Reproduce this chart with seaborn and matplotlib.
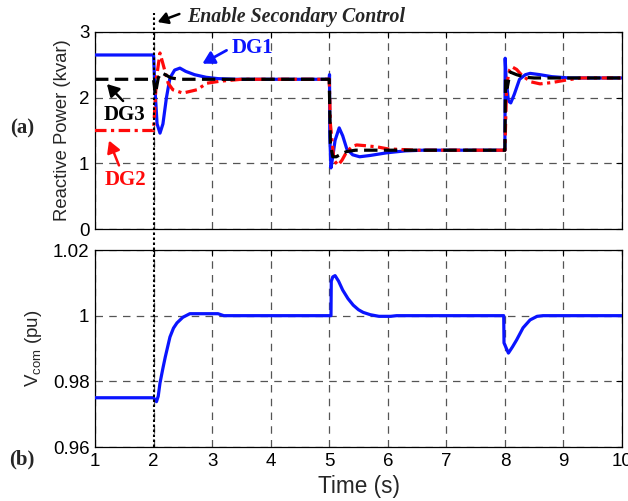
import matplotlib
matplotlib.use("Agg")
import matplotlib.pyplot as plt
import seaborn as sns
import pandas as pd

# ---- data ----
t_dg1 = [1.0, 2.0, 2.02, 2.06, 2.11, 2.16, 2.22, 2.28, 2.36, 2.45, 2.55, 2.7, 2.9, 3.1, 3.4,
         5.0, 5.005, 5.01, 5.03, 5.06, 5.1, 5.17, 5.23, 5.3, 5.4, 5.52, 5.7, 5.98, 6.3, 6.6,
         8.0, 8.005, 8.02, 8.06, 8.1, 8.16, 8.25, 8.35, 8.43, 8.6, 8.8, 9.1, 10.0]
q_dg1 = [2.65, 2.65, 2.2, 1.6, 1.46, 1.6, 2.0, 2.3, 2.42, 2.45, 2.4, 2.35, 2.31, 2.29, 2.28,
         2.28, 2.35, 1.4, 0.93, 1.1, 1.35, 1.54, 1.42, 1.22, 1.13, 1.10, 1.12, 1.16, 1.19, 1.2,
         1.2, 2.6, 2.3, 1.95, 1.92, 2.05, 2.28, 2.35, 2.37, 2.35, 2.32, 2.3, 2.3]

t_dg2 = [1.0, 2.0, 2.05, 2.11, 2.15, 2.25, 2.33, 2.5, 2.74, 2.91, 3.13, 3.5,
         5.0, 5.02, 5.08, 5.15, 5.22, 5.3, 5.4, 5.47, 5.6, 5.82, 6.0, 6.5,
         8.0, 8.03, 8.08, 8.12, 8.2, 8.3, 8.45, 8.6, 8.8, 9.06, 9.3, 10.0]
q_dg2 = [1.5, 1.5, 2.3, 2.68, 2.55, 2.22, 2.12, 2.07, 2.12, 2.22, 2.25, 2.28,
         2.28, 1.6, 1.05, 0.97, 1.05, 1.18, 1.26, 1.28, 1.27, 1.25, 1.22, 1.2,
         1.2, 2.2, 2.42, 2.47, 2.43, 2.33, 2.24, 2.21, 2.23, 2.27, 2.3, 2.3]

t_dg3 = [1.0, 2.0, 2.03, 2.08, 2.13, 2.2, 2.3, 2.45,
         5.0, 5.02, 5.06, 5.12, 5.2, 5.3, 5.45,
         8.0, 8.01, 8.04, 8.09, 8.2, 8.35, 8.5, 10.0]
q_dg3 = [2.28, 2.28, 2.05, 2.3, 2.38, 2.35, 2.3, 2.28,
         2.28, 1.3, 1.1, 1.1, 1.14, 1.18, 1.2,
         1.2, 2.3, 2.15, 2.39, 2.35, 2.31, 2.3, 2.3]

t_v = [1.0, 2.0, 2.05, 2.08, 2.11, 2.16, 2.2, 2.28, 2.34, 2.4, 2.5, 2.62, 3.1, 3.2,
       5.03, 5.035, 5.06, 5.1, 5.16, 5.23, 5.32, 5.41, 5.5, 5.58, 5.7, 5.85, 6.05, 6.15,
       7.98, 7.985, 8.06, 8.13, 8.2, 8.31, 8.43, 8.55, 8.65, 10.0]
v_com = [0.975, 0.975, 0.9738, 0.9755, 0.9795, 0.984, 0.9874, 0.9935, 0.9962, 0.9978, 0.9995, 1.0006, 1.0006, 1.0,
         1.0, 1.0105, 1.0118, 1.0122, 1.0105, 1.0078, 1.0052, 1.0032, 1.0018, 1.001, 1.0003, 0.9998, 0.9998, 1.0,
         1.0, 0.9917, 0.9886, 0.9905, 0.9926, 0.9963, 0.9987, 0.9998, 1.0, 1.0]

x_ticks = [1, 2, 3, 4, 5, 6, 7, 8, 9, 10]
q_ticks = [0, 1, 2, 3]
v_ticks = [0.96, 0.98, 1.0, 1.02]
v_ticklabels = ["0.96", "0.98", "1", "1.02"]
t_enable = 2.0

# ---- style ----
sns.set_theme(style="white")
plt.rcParams["font.family"] = ["Liberation Sans", "DejaVu Sans"]
plt.rcParams["mathtext.fontset"] = "custom"
plt.rcParams["mathtext.rm"] = "Liberation Sans"
plt.rcParams["mathtext.it"] = "Liberation Sans:italic"

fig = plt.figure(figsize=(6.28, 5.01), dpi=100)
W, H = 628, 501
def rect(l, t, r, b):
    return [l / W, 1 - b / H, (r - l) / W, (b - t) / H]

ax1 = fig.add_axes(rect(95, 32, 622, 229))
ax2 = fig.add_axes(rect(95, 250, 622, 447))

df1 = pd.DataFrame({"t": t_dg1, "q": q_dg1})
df2 = pd.DataFrame({"t": t_dg2, "q": q_dg2})
df3 = pd.DataFrame({"t": t_dg3, "q": q_dg3})
dfv = pd.DataFrame({"t": t_v, "v": v_com})

lw = 2.3
sns.lineplot(data=df1, x="t", y="q", ax=ax1, color="#0a14ff", lw=lw, estimator=None, sort=False, zorder=3)
sns.lineplot(data=df2, x="t", y="q", ax=ax1, color="#ff0a0a", lw=lw, estimator=None, sort=False, zorder=4)
ax1.lines[-1].set_dashes([3.6, 1.4, 1.0, 1.4])
sns.lineplot(data=df3, x="t", y="q", ax=ax1, color="black", lw=lw, estimator=None, sort=False, zorder=5)
ax1.lines[-1].set_dashes([4.2, 2.0])

sns.lineplot(data=dfv, x="t", y="v", ax=ax2, color="#0a14ff", lw=lw, estimator=None, sort=False, zorder=3)

grid_kw = dict(color="#555555", linestyle=(0, (6, 5)), linewidth=0.9)
for ax in (ax1, ax2):
    ax.set_xlim(1, 10)
    ax.set_xticks(x_ticks)
    ax.grid(True, **grid_kw)
    ax.tick_params(direction="in", top=True, right=True, length=4, width=0.8,
                   labelsize=13.5, colors="black", pad=4)
    for s in ax.spines.values():
        s.set_color("black")
        s.set_linewidth(0.9)
    ax.set_facecolor("white")

ax1.set_ylim(0, 3)
ax1.set_yticks(q_ticks)
ax1.set_xticklabels([])
ax1.set_xlabel("")
ax1.set_ylabel("Reactive Power (kvar)", fontsize=13.3, labelpad=6)

ax2.set_ylim(0.96, 1.02)
ax2.set_yticks(v_ticks)
ax2.set_yticklabels(v_ticklabels)
ax2.set_xlabel("Time (s)", fontsize=16.3, labelpad=4)
ax2.set_ylabel(r"$\mathregular{V_{com}}$ (pu)", fontsize=13.5, labelpad=6)

# enable secondary control line
ax1.axvline(t_enable, ymin=-0.107, ymax=1.096, color="black", lw=1.5,
            linestyle=(0, (1.2, 1.2)), clip_on=False, zorder=6)
ax2.axvline(t_enable, color="black", lw=1.5, linestyle=(0, (1.2, 1.2)), zorder=6)

serif = ["Liberation Serif", "DejaVu Serif"]
fig.text(187 / W, 1 - 17 / H, "Enable Secondary Control", family=serif, fontsize=14.3,
         fontweight="bold", fontstyle="italic", ha="left", va="center")
fig.add_artist(matplotlib.patches.FancyArrowPatch(
    (182 / W, 1 - 13 / H), (155 / W, 1 - 23 / H), transform=fig.transFigure,
    arrowstyle="-|>,head_length=6,head_width=3.5", color="black", lw=1.8))

fig.text(22 / W, 1 - 128 / H, "(a)", family=serif, fontsize=15, fontweight="bold", ha="center", va="center")
fig.text(22 / W, 1 - 459 / H, "(b)", family=serif, fontsize=15, fontweight="bold", ha="center", va="center")

fig.text(232 / W, 1 - 48 / H, "DG1", family=serif, fontsize=15, fontweight="bold", color="#0a14ff",
         ha="left", va="center")
fig.add_artist(matplotlib.patches.FancyArrowPatch(
    (229 / W, 1 - 49 / H), (200 / W, 1 - 65 / H), transform=fig.transFigure,
    arrowstyle="-|>,head_length=7,head_width=4", color="#0a14ff", lw=2.0))

fig.text(125 / W, 1 - 115 / H, "DG3", family=serif, fontsize=15, fontweight="bold", color="black",
         ha="center", va="center")
fig.add_artist(matplotlib.patches.FancyArrowPatch(
    (125 / W, 1 - 103 / H), (105 / W, 1 - 82 / H), transform=fig.transFigure,
    arrowstyle="-|>,head_length=7,head_width=4", color="black", lw=1.8))

fig.text(125 / W, 1 - 180 / H, "DG2", family=serif, fontsize=15, fontweight="bold", color="#ff0a0a",
         ha="center", va="center")
fig.add_artist(matplotlib.patches.FancyArrowPatch(
    (120 / W, 1 - 168 / H), (108 / W, 1 - 138 / H), transform=fig.transFigure,
    arrowstyle="-|>,head_length=7,head_width=4", color="#ff0a0a", lw=1.8))

fig.savefig("out.png", dpi=100, facecolor="white")
